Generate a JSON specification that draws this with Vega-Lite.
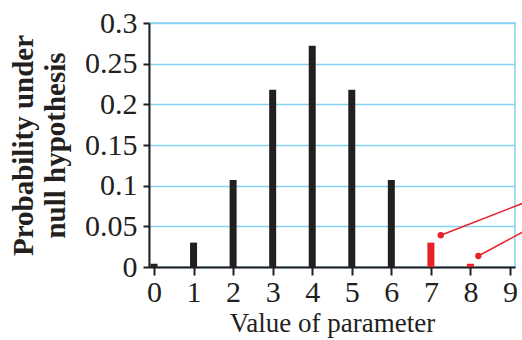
{
  "$schema": "https://vega.github.io/schema/vega-lite/v6.json",
  "autosize": {"type": "none"},
  "padding": {"left": 149, "top": 23, "right": 7, "bottom": 73},
  "width": 366,
  "height": 244,
  "config": {
    "font": "Liberation Serif",
    "view": {"stroke": "#86d3f1", "strokeWidth": 1.5}
  },
  "datasets": {
    "probs": [
      {"k": 0, "p": 0.004},
      {"k": 1, "p": 0.030},
      {"k": 2, "p": 0.107},
      {"k": 3, "p": 0.218},
      {"k": 4, "p": 0.272},
      {"k": 5, "p": 0.218},
      {"k": 6, "p": 0.107},
      {"k": 7, "p": 0.030},
      {"k": 8, "p": 0.004}
    ],
    "pointers": [
      {"x": 7.25, "y": 0.039, "x2": 9.5, "y2": 0.0817},
      {"x": 8.2, "y": 0.0135, "x2": 9.5, "y2": 0.0477}
    ]
  },
  "layer": [
    {
      "data": {"name": "probs"},
      "mark": {"type": "bar", "size": 7, "clip": false},
      "encoding": {
        "x": {
          "field": "k", "type": "quantitative",
          "scale": {"domain": [0, 9], "nice": false, "zero": false},
          "axis": {
            "values": [0,1,2,3,4,5,6,7,8,9],
            "title": "Value of parameter",
            "grid": false,
            "domainColor": "#231f20", "domainWidth": 2,
            "tickColor": "#231f20", "tickWidth": 2, "tickSize": 8,
            "labelFontSize": 30, "labelColor": "#231f20", "labelPadding": 2,
            "titleFontSize": 27, "titleFontWeight": "normal", "titleColor": "#231f20", "titlePadding": 3
          }
        },
        "y": {
          "field": "p", "type": "quantitative",
          "scale": {"domain": [0, 0.3], "nice": false},
          "axis": {
            "values": [0, 0.05, 0.1, 0.15, 0.2, 0.25, 0.3],
            "format": "~g",
            "title": ["Probability under", "null hypothesis"],
            "grid": true, "gridColor": "#86d3f1", "gridWidth": 1.5,
            "domainColor": "#231f20", "domainWidth": 2,
            "tickColor": "#231f20", "tickWidth": 2, "tickSize": 6,
            "labelFontSize": 30, "labelColor": "#231f20", "labelPadding": 6,
            "titleFontSize": 29, "titleFontWeight": "bold", "titleColor": "#231f20",
            "titleLineHeight": 32, "titlePadding": 14
          }
        },
        "color": {
          "condition": {"test": "datum.k >= 7", "value": "#e8202a"},
          "value": "#231f20"
        }
      }
    },
    {
      "data": {"name": "pointers"},
      "mark": {"type": "rule", "color": "#e8202a", "strokeWidth": 1.5, "clip": false},
      "encoding": {
        "x": {"field": "x", "type": "quantitative"},
        "y": {"field": "y", "type": "quantitative"},
        "x2": {"field": "x2"},
        "y2": {"field": "y2"}
      }
    },
    {
      "data": {"name": "pointers"},
      "mark": {"type": "point", "filled": true, "color": "#e8202a", "size": 40, "opacity": 1, "clip": false},
      "encoding": {
        "x": {"field": "x", "type": "quantitative"},
        "y": {"field": "y", "type": "quantitative"}
      }
    }
  ]
}
